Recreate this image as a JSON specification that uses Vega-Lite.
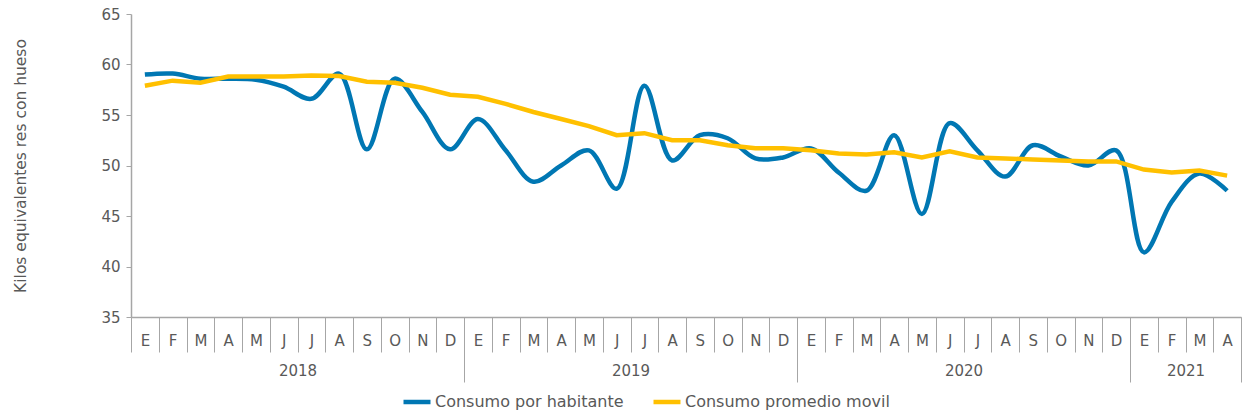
{
  "$schema": "https://vega.github.io/schema/vega-lite/v6.json",
  "width": 1110,
  "height": 303,
  "autosize": {"type": "none"},
  "padding": {"left": 131, "top": 14, "right": 4, "bottom": 102},
  "config": {
    "view": {"stroke": null},
    "font": "DejaVu Sans",
    "axis": {"labelFont": "DejaVu Sans", "titleFont": "DejaVu Sans"}
  },
  "data": {
    "values": [
      {"i": 0, "mes": "E", "anio": 2018, "serie": "Consumo por habitante", "valor": 59.0},
      {"i": 1, "mes": "F", "anio": 2018, "serie": "Consumo por habitante", "valor": 59.1},
      {"i": 2, "mes": "M", "anio": 2018, "serie": "Consumo por habitante", "valor": 58.6},
      {"i": 3, "mes": "A", "anio": 2018, "serie": "Consumo por habitante", "valor": 58.6},
      {"i": 4, "mes": "M", "anio": 2018, "serie": "Consumo por habitante", "valor": 58.5},
      {"i": 5, "mes": "J", "anio": 2018, "serie": "Consumo por habitante", "valor": 57.8},
      {"i": 6, "mes": "J", "anio": 2018, "serie": "Consumo por habitante", "valor": 56.6},
      {"i": 7, "mes": "A", "anio": 2018, "serie": "Consumo por habitante", "valor": 59.1},
      {"i": 8, "mes": "S", "anio": 2018, "serie": "Consumo por habitante", "valor": 51.6},
      {"i": 9, "mes": "O", "anio": 2018, "serie": "Consumo por habitante", "valor": 58.6},
      {"i": 10, "mes": "N", "anio": 2018, "serie": "Consumo por habitante", "valor": 55.3},
      {"i": 11, "mes": "D", "anio": 2018, "serie": "Consumo por habitante", "valor": 51.6},
      {"i": 12, "mes": "E", "anio": 2019, "serie": "Consumo por habitante", "valor": 54.6},
      {"i": 13, "mes": "F", "anio": 2019, "serie": "Consumo por habitante", "valor": 51.5},
      {"i": 14, "mes": "M", "anio": 2019, "serie": "Consumo por habitante", "valor": 48.4},
      {"i": 15, "mes": "A", "anio": 2019, "serie": "Consumo por habitante", "valor": 50.0},
      {"i": 16, "mes": "M", "anio": 2019, "serie": "Consumo por habitante", "valor": 51.5},
      {"i": 17, "mes": "J", "anio": 2019, "serie": "Consumo por habitante", "valor": 47.7},
      {"i": 18, "mes": "J", "anio": 2019, "serie": "Consumo por habitante", "valor": 57.9},
      {"i": 19, "mes": "A", "anio": 2019, "serie": "Consumo por habitante", "valor": 50.5},
      {"i": 20, "mes": "S", "anio": 2019, "serie": "Consumo por habitante", "valor": 53.0},
      {"i": 21, "mes": "O", "anio": 2019, "serie": "Consumo por habitante", "valor": 52.7},
      {"i": 22, "mes": "N", "anio": 2019, "serie": "Consumo por habitante", "valor": 50.7},
      {"i": 23, "mes": "D", "anio": 2019, "serie": "Consumo por habitante", "valor": 50.8},
      {"i": 24, "mes": "E", "anio": 2020, "serie": "Consumo por habitante", "valor": 51.7},
      {"i": 25, "mes": "F", "anio": 2020, "serie": "Consumo por habitante", "valor": 49.3},
      {"i": 26, "mes": "M", "anio": 2020, "serie": "Consumo por habitante", "valor": 47.5},
      {"i": 27, "mes": "A", "anio": 2020, "serie": "Consumo por habitante", "valor": 53.0},
      {"i": 28, "mes": "M", "anio": 2020, "serie": "Consumo por habitante", "valor": 45.2},
      {"i": 29, "mes": "J", "anio": 2020, "serie": "Consumo por habitante", "valor": 54.2},
      {"i": 30, "mes": "J", "anio": 2020, "serie": "Consumo por habitante", "valor": 51.5},
      {"i": 31, "mes": "A", "anio": 2020, "serie": "Consumo por habitante", "valor": 48.9},
      {"i": 32, "mes": "S", "anio": 2020, "serie": "Consumo por habitante", "valor": 52.0},
      {"i": 33, "mes": "O", "anio": 2020, "serie": "Consumo por habitante", "valor": 50.9},
      {"i": 34, "mes": "N", "anio": 2020, "serie": "Consumo por habitante", "valor": 50.0},
      {"i": 35, "mes": "D", "anio": 2020, "serie": "Consumo por habitante", "valor": 51.5},
      {"i": 36, "mes": "E", "anio": 2021, "serie": "Consumo por habitante", "valor": 41.4},
      {"i": 37, "mes": "F", "anio": 2021, "serie": "Consumo por habitante", "valor": 46.4},
      {"i": 38, "mes": "M", "anio": 2021, "serie": "Consumo por habitante", "valor": 49.2},
      {"i": 39, "mes": "A", "anio": 2021, "serie": "Consumo por habitante", "valor": 47.5},
      {"i": 0, "mes": "E", "anio": 2018, "serie": "Consumo promedio movil", "valor": 57.9},
      {"i": 1, "mes": "F", "anio": 2018, "serie": "Consumo promedio movil", "valor": 58.4},
      {"i": 2, "mes": "M", "anio": 2018, "serie": "Consumo promedio movil", "valor": 58.2},
      {"i": 3, "mes": "A", "anio": 2018, "serie": "Consumo promedio movil", "valor": 58.8},
      {"i": 4, "mes": "M", "anio": 2018, "serie": "Consumo promedio movil", "valor": 58.8},
      {"i": 5, "mes": "J", "anio": 2018, "serie": "Consumo promedio movil", "valor": 58.8},
      {"i": 6, "mes": "J", "anio": 2018, "serie": "Consumo promedio movil", "valor": 58.9},
      {"i": 7, "mes": "A", "anio": 2018, "serie": "Consumo promedio movil", "valor": 58.85},
      {"i": 8, "mes": "S", "anio": 2018, "serie": "Consumo promedio movil", "valor": 58.3},
      {"i": 9, "mes": "O", "anio": 2018, "serie": "Consumo promedio movil", "valor": 58.2},
      {"i": 10, "mes": "N", "anio": 2018, "serie": "Consumo promedio movil", "valor": 57.7},
      {"i": 11, "mes": "D", "anio": 2018, "serie": "Consumo promedio movil", "valor": 57.0},
      {"i": 12, "mes": "E", "anio": 2019, "serie": "Consumo promedio movil", "valor": 56.8},
      {"i": 13, "mes": "F", "anio": 2019, "serie": "Consumo promedio movil", "valor": 56.1},
      {"i": 14, "mes": "M", "anio": 2019, "serie": "Consumo promedio movil", "valor": 55.3},
      {"i": 15, "mes": "A", "anio": 2019, "serie": "Consumo promedio movil", "valor": 54.6},
      {"i": 16, "mes": "M", "anio": 2019, "serie": "Consumo promedio movil", "valor": 53.9},
      {"i": 17, "mes": "J", "anio": 2019, "serie": "Consumo promedio movil", "valor": 53.0},
      {"i": 18, "mes": "J", "anio": 2019, "serie": "Consumo promedio movil", "valor": 53.2},
      {"i": 19, "mes": "A", "anio": 2019, "serie": "Consumo promedio movil", "valor": 52.5},
      {"i": 20, "mes": "S", "anio": 2019, "serie": "Consumo promedio movil", "valor": 52.5},
      {"i": 21, "mes": "O", "anio": 2019, "serie": "Consumo promedio movil", "valor": 52.0},
      {"i": 22, "mes": "N", "anio": 2019, "serie": "Consumo promedio movil", "valor": 51.7},
      {"i": 23, "mes": "D", "anio": 2019, "serie": "Consumo promedio movil", "valor": 51.7},
      {"i": 24, "mes": "E", "anio": 2020, "serie": "Consumo promedio movil", "valor": 51.5},
      {"i": 25, "mes": "F", "anio": 2020, "serie": "Consumo promedio movil", "valor": 51.2},
      {"i": 26, "mes": "M", "anio": 2020, "serie": "Consumo promedio movil", "valor": 51.1},
      {"i": 27, "mes": "A", "anio": 2020, "serie": "Consumo promedio movil", "valor": 51.3},
      {"i": 28, "mes": "M", "anio": 2020, "serie": "Consumo promedio movil", "valor": 50.8},
      {"i": 29, "mes": "J", "anio": 2020, "serie": "Consumo promedio movil", "valor": 51.4},
      {"i": 30, "mes": "J", "anio": 2020, "serie": "Consumo promedio movil", "valor": 50.8},
      {"i": 31, "mes": "A", "anio": 2020, "serie": "Consumo promedio movil", "valor": 50.7},
      {"i": 32, "mes": "S", "anio": 2020, "serie": "Consumo promedio movil", "valor": 50.6},
      {"i": 33, "mes": "O", "anio": 2020, "serie": "Consumo promedio movil", "valor": 50.5},
      {"i": 34, "mes": "N", "anio": 2020, "serie": "Consumo promedio movil", "valor": 50.4},
      {"i": 35, "mes": "D", "anio": 2020, "serie": "Consumo promedio movil", "valor": 50.4},
      {"i": 36, "mes": "E", "anio": 2021, "serie": "Consumo promedio movil", "valor": 49.6},
      {"i": 37, "mes": "F", "anio": 2021, "serie": "Consumo promedio movil", "valor": 49.3},
      {"i": 38, "mes": "M", "anio": 2021, "serie": "Consumo promedio movil", "valor": 49.5},
      {"i": 39, "mes": "A", "anio": 2021, "serie": "Consumo promedio movil", "valor": 49.0}
    ]
  },
  "encoding": {
    "y": {
      "field": "valor",
      "type": "quantitative",
      "scale": {"domain": [35, 65], "nice": false, "zero": false},
      "axis": {
        "values": [35, 40, 45, 50, 55, 60, 65],
        "title": "Kilos equivalentes res con hueso",
        "titleFontSize": 15.5,
        "titleFontWeight": "normal",
        "titleColor": "#595959",
        "titlePadding": 72,
        "labelFontSize": 15,
        "labelColor": "#595959",
        "labelPadding": 6,
        "tickSize": 5,
        "tickColor": "#A6A6A6",
        "domainColor": "#A6A6A6",
        "domainWidth": 1.5,
        "grid": false
      }
    },
    "color": {
      "field": "serie",
      "type": "nominal",
      "scale": {
        "domain": ["Consumo por habitante", "Consumo promedio movil"],
        "range": ["#0077B3", "#FFC000"]
      },
      "legend": {
        "title": null,
        "orient": "none",
        "direction": "horizontal",
        "legendX": 270,
        "legendY": 372,
        "symbolType": "stroke",
        "symbolSize": 729,
        "symbolStrokeWidth": 4.5,
        "labelFontSize": 16,
        "labelColor": "#595959",
        "labelOffset": 2,
        "labelLimit": 400,
        "columnPadding": 20
      }
    }
  },
  "layer": [
    {
      "transform": [{"filter": "datum.serie == 'Consumo por habitante'"}],
      "mark": {"type": "line", "strokeWidth": 4.5, "interpolate": "catmull-rom"},
      "encoding": {
        "x": {
          "field": "i",
          "type": "ordinal",
          "scale": {"type": "band", "paddingInner": 0, "paddingOuter": 0},
          "axis": {
            "orient": "bottom",
            "title": null,
            "labelExpr": "['E','F','M','A','M','J','J','A','S','O','N','D'][datum.value % 12]",
            "labelAngle": 0,
            "labelFontSize": 15,
            "labelColor": "#595959",
            "tickBand": "extent",
            "tickSize": 35,
            "tickColor": "#A6A6A6",
            "labelPadding": -19,
            "domainColor": "#A6A6A6",
            "domainWidth": 1.5
          }
        }
      }
    },
    {
      "transform": [{"filter": "datum.serie == 'Consumo promedio movil'"}],
      "mark": {"type": "line", "strokeWidth": 4.5},
      "encoding": {
        "x": {
          "field": "i",
          "type": "ordinal",
          "scale": {"type": "band", "paddingInner": 0, "paddingOuter": 0},
          "axis": {
            "orient": "bottom",
            "offset": 0,
            "title": null,
            "domain": false,
            "labelExpr": "datum.value == 6 ? '2018' : datum.value == 18 ? '2019' : datum.value == 30 ? '2020' : datum.value == 38 ? '2021' : ''",
            "labelAngle": 0,
            "labelFontSize": 15,
            "labelColor": "#595959",
            "labelOffset": -13.875,
            "tickBand": "extent",
            "tickSize": 65,
            "tickColor": "#A6A6A6",
            "tickOpacity": {
              "condition": {"test": "datum.index == 1 || datum.value == 11 || datum.value == 23 || datum.value == 35 || datum.value == 39", "value": 1},
              "value": 0
            },
            "labelPadding": -19,
            "labelOverlap": false
          }
        }
      }
    }
  ],
  "resolve": {"axis": {"x": "independent"}}
}
